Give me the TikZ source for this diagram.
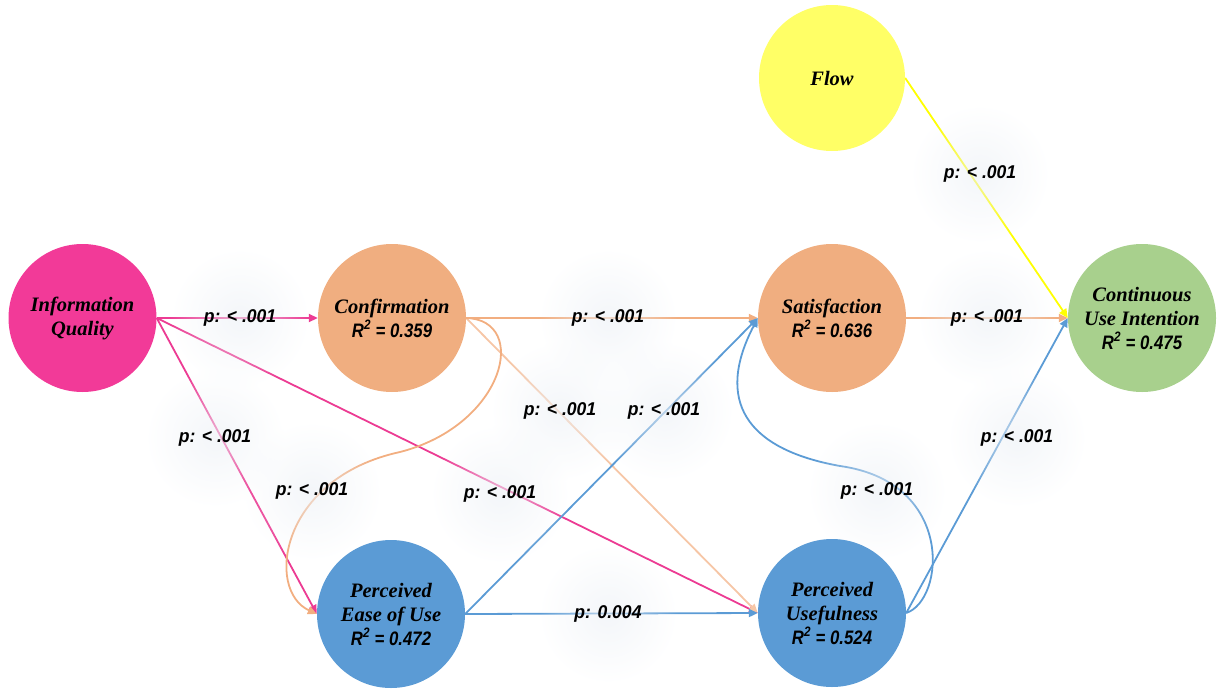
\documentclass[tikz,border=0pt]{standalone}
\usepackage{fontspec}
\setmainfont{Liberation Serif}
\newfontfamily\narrowsans[FakeStretch=0.86]{Liberation Sans}
\newfontfamily\labelsans[FakeStretch=0.95]{Liberation Sans}
\usetikzlibrary{arrows.meta,fadings}
\pgfdeclarelayer{background}
\pgfsetlayers{background,main}

% fills of the constructs
\definecolor{iqpink}{HTML}{F23A98}
\definecolor{orangefill}{HTML}{F0AE80}
\definecolor{greenfill}{HTML}{A8D08D}
\definecolor{bluefill}{HTML}{5B9BD5}
\definecolor{yellowfill}{HTML}{FFFF66}
% path colours
\definecolor{pinkline}{HTML}{EC3B93}
\definecolor{orangeline}{HTML}{F2AE80}
\definecolor{blueline}{HTML}{5B9BD5}
\definecolor{yellowline}{HTML}{FFFF00}
\definecolor{hazecol}{HTML}{EDF1F6}

\tikzfading[name=haze, inner color=transparent!35, outer color=transparent!100]

\tikzset{
  construct/.style={circle, minimum size=148pt, inner sep=0pt, align=center,
    text=black, font=\fontsize{20.5}{24}\selectfont\bfseries\itshape},
  plabel/.style={inner sep=1pt, text=black,
    font=\labelsans\fontsize{18.5}{20}\selectfont\bfseries\itshape},
  link/.style={line width=1.8pt, -{Triangle[length=9pt,width=8pt]}},
  halo/.style={fill=hazecol, path fading=haze}
}

\newcommand\rsq[1]{{\narrowsans\fontsize{19.5}{24}\selectfont R\textsuperscript{2} = #1}}

\begin{document}
\begin{tikzpicture}[x=1pt,y=-1pt]
\useasboundingbox (0,0) rectangle (1217,688);

% constructs
\node[construct, fill=iqpink]     (iq)   at (82.5,318) {Information\\Quality};
\node[construct, fill=orangefill] (conf) at (392,318)  {Confirmation\\\rsq{0.359}};
\node[construct, fill=orangefill] (sat)  at (832,318)  {Satisfaction\\\rsq{0.636}};
\node[construct, fill=greenfill]  (cui)  at (1142,318) {Continuous\\Use Intention\\\rsq{0.475}};
\node[construct, fill=yellowfill, minimum size=146pt] (flow) at (832,78) {Flow};
\node[construct, fill=bluefill]   (peou) at (391,614)  {Perceived\\Ease of Use\\\rsq{0.472}};
\node[construct, fill=bluefill]   (pu)   at (832,613)  {Perceived\\Usefulness\\\rsq{0.524}};

% path coefficients
\node[plabel] (l1)  at (240,318)  {p: < .001};
\node[plabel] (l2)  at (215,438)  {p: < .001};
\node[plabel] (l3)  at (312,491)  {p: < .001};
\node[plabel] (l4)  at (500,494)  {p: < .001};
\node[plabel] (l5)  at (608,318)  {p: < .001};
\node[plabel] (l6)  at (560,411)  {p: < .001};
\node[plabel] (l7)  at (664,411)  {p: < .001};
\node[plabel] (l8)  at (608,614)  {p: 0.004};
\node[plabel] (l9)  at (987,318)  {p: < .001};
\node[plabel] (l10) at (877,491)  {p: < .001};
\node[plabel] (l11) at (1017,438) {p: < .001};
\node[plabel] (l12) at (980,174)  {p: < .001};

\begin{pgfonlayer}{background}
  % structural paths
  \draw[link, pinkline] (iq.east) -- (conf.west);
  \draw[link, pinkline] (iq.east) -- (peou.west);
  \draw[link, pinkline] (iq.east) -- (pu.west);
  \draw[link, orangeline] (conf.east) -- (sat.west);
  \draw[link, orangeline!70] (conf.east) -- (pu.west);
  \draw[link, orangeline] (conf.east) .. controls (530,320) and (505,425) .. (400,452)
        .. controls (280,478) and (265,590) .. (peou.west);
  \draw[link, blueline] (peou.east) -- (sat.west);
  \draw[link, blueline] (peou.east) -- (pu.west);
  \draw[link, blueline] (pu.east) .. controls (945,600) and (955,482) .. (840,466)
        .. controls (745,449) and (715,400) .. (sat.west);
  \draw[link, blueline] (pu.east) -- (cui.west);
  \draw[link, orangeline] (sat.east) -- (cui.west);
  \draw[link, yellowline] (flow.east) -- (cui.west);

  % soft haze behind the coefficients
  \foreach \l in {l1,l2,l3,l4,l5,l6,l7,l8,l9,l10,l11,l12}
    \fill[halo] (\l) circle (70pt);
\end{pgfonlayer}
\end{tikzpicture}
\end{document}
